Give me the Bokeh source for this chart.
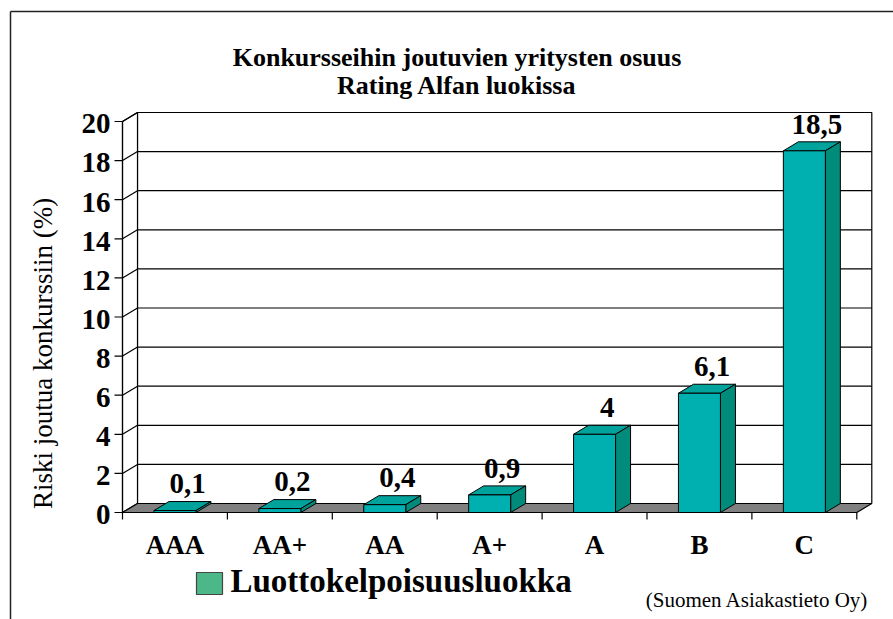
import numpy as np
from bokeh.plotting import figure
from bokeh.models import Range1d
from bokeh.core.properties import value
from bokeh.embed import file_html
from bokeh.resources import INLINE

# ---------------- data ----------------
categories = ["AAA", "AA+", "AA", "A+", "A", "B", "C"]
risk = [0.1, 0.2, 0.4, 0.9, 4, 6.1, 18.5]
y_ticks = [0, 2, 4, 6, 8, 10, 12, 14, 16, 18, 20]
title_lines = ["Konkursseihin joutuvien yritysten osuus", "Rating Alfan luokissa"]
y_label = "Riski joutua konkurssiin (%)"
legend_label = "Luottokelpoisuusluokka"
source_text = "(Suomen Asiakastieto Oy)"

# ---------------- layout / styling ----------------
W, H = 893, 619
PX = 104.9                 # px per category
PY = 19.55                 # px per percent unit
ORIGIN_X, ORIGIN_Y = 122, 512   # canvas position of (0, 0)
TXT_K = 0.3                # baseline correction for text glyphs (fraction of font size)

def xd(px):
    return (px - ORIGIN_X) / PX

def yd(py):
    return (ORIGIN_Y - py) / PY

def ytxt(py, size):
    # canvas baseline -> data y, compensating the renderer's baseline shift
    return yd(py - TXT_K * size)

SERIF = "Liberation Serif"
FRONT = "#00AFAF"
TOPC = "#00A39B"
SIDE = "#008B7B"
FLOOR = "#808080"

n = len(categories)
DX = 15 / PX
DY = 9 / PY
BW = 42 / PX
ymax = y_ticks[-1]

p = figure(width=W, height=H, output_backend="svg", toolbar_location=None,
           x_range=Range1d(xd(0), xd(W)), y_range=Range1d(yd(H), yd(0)),
           x_axis_location=None, y_axis_location=None,
           min_border_left=0, min_border_right=0, min_border_top=0, min_border_bottom=0,
           border_fill_color="white", background_fill_color="white", outline_line_color=None)
p.xgrid.visible = False
p.ygrid.visible = False

# outer frame (only its top and left edges fall inside the picture)
p.segment(x0=[xd(10), xd(10)], y0=[yd(11), yd(11)], x1=[xd(W + 5), xd(10)], y1=[yd(11), yd(H + 5)],
          line_color="#222222", line_width=1.5)

# walls
p.patch([DX, n + DX, n + DX, DX], [DY, DY, ymax + DY, ymax + DY],
        fill_color="white", line_color="black", line_width=1.2)
p.patch([0, DX, DX, 0], [0, DY, ymax + DY, ymax],
        fill_color="white", line_color="black", line_width=1.2)
g = y_ticks[1:]
p.segment(x0=[DX] * len(g), y0=[t + DY for t in g], x1=[n + DX] * len(g), y1=[t + DY for t in g],
          line_color="black", line_width=1.2)
p.segment(x0=[0] * len(g), y0=g, x1=[DX] * len(g), y1=[t + DY for t in g],
          line_color="black", line_width=1.2)

# floor
p.patch([0, n, n + DX, DX], [0, 0, DY, DY], fill_color=FLOOR, line_color="black", line_width=1.2)

# y axis: line, ticks, labels
TICK = 8 / PX
p.segment(x0=[0], y0=[0], x1=[0], y1=[ymax], line_color="black", line_width=1.2)
p.segment(x0=[-TICK] * len(y_ticks), y0=y_ticks, x1=[0] * len(y_ticks), y1=y_ticks,
          line_color="black", line_width=1.2)
YSIZE = 29
p.text(x=[-TICK - 4 / PX] * len(y_ticks),
       y=[t - (11 - TXT_K * YSIZE) / PY for t in y_ticks],
       text=[str(t) for t in y_ticks], text_align="right", text_baseline="alphabetic",
       text_font=value(SERIF), text_font_style="bold", text_font_size=f"{YSIZE}px", text_color="black")

# bars
cx = [i + 0.5 for i in range(n)]
x0 = [c - BW / 2 for c in cx]
x1 = [c + BW / 2 for c in cx]
p.patches([[a, b, b + DX, a + DX] for a, b in zip(x0, x1)],
          [[v, v, v + DY, v + DY] for v in risk],
          fill_color=TOPC, line_color="black", line_width=1)
p.patches([[b, b + DX, b + DX, b] for b in x1],
          [[0, DY, v + DY, v] for v in risk],
          fill_color=SIDE, line_color="black", line_width=1)
p.quad(left=x0, right=x1, bottom=0, top=risk,
       fill_color=FRONT, line_color="black", line_width=1)

# value labels
VSIZE = 29
labels = [f"{v:g}".replace(".", ",") for v in risk]
p.text(x=[c + 0.12 for c in cx], y=[v + DY + (9 + TXT_K * VSIZE) / PY for v in risk], text=labels,
       text_align="center", text_baseline="alphabetic",
       text_font=value(SERIF), text_font_style="bold", text_font_size=f"{VSIZE}px", text_color="black")

# x axis ticks and labels
bx = list(range(n + 1))
p.segment(x0=bx, y0=[0] * len(bx), x1=bx, y1=[-7 / PY] * len(bx), line_color="black", line_width=1.2)
p.text(x=cx, y=[ytxt(553, 27)] * n, text=categories, text_align="center", text_baseline="alphabetic",
       text_font=value(SERIF), text_font_style="bold", text_font_size="27px", text_color="black")

# title
p.text(x=[xd(456.5)] * 2, y=[ytxt(65, 26), ytxt(93, 26)], text=title_lines,
       text_align="center", text_baseline="alphabetic",
       text_font=value(SERIF), text_font_style="bold", text_font_size="26px", text_color="black")

# legend
p.quad(left=[xd(196)], right=[xd(222)], top=[yd(572)], bottom=[yd(594)],
       fill_color="#4CB88A", line_color="#444444", line_width=1.2)
p.text(x=[xd(230)], y=[ytxt(590, 33)], text=[legend_label], text_align="left", text_baseline="alphabetic",
       text_font=value(SERIF), text_font_style="bold", text_font_size="33px", text_color="black")

# source
p.text(x=[xd(868)], y=[ytxt(606, 21)], text=[source_text], text_align="right", text_baseline="alphabetic",
       text_font=value(SERIF), text_font_size="21px", text_color="black")

# y axis title (rotated; baseline correction applied along the text's down direction)
LSIZE = 27
p.text(x=[xd(51 - TXT_K * LSIZE)], y=[yd(353)], text=[y_label], angle=np.pi / 2,
       text_align="center", text_baseline="alphabetic",
       text_font=value(SERIF), text_font_size=f"{LSIZE}px", text_color="black")

open("out.html", "w").write(file_html(p, INLINE))
